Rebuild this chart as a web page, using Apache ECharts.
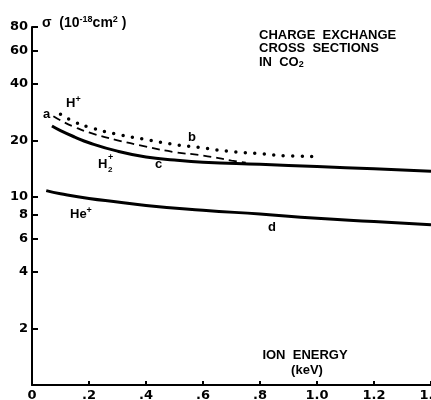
<!DOCTYPE html>
<html><head><meta charset="utf-8">
<script src="https://cdn.jsdelivr.net/npm/echarts@6/dist/echarts.min.js"></script>
<style>html,body{margin:0;padding:0;background:#fff}#c{width:431px;height:400px}</style>
</head><body><div id="c"></div>
<script>
// Energy (keV) tick labels
const xTickValues = [0, 0.2, 0.4, 0.6, 0.8, 1.0, 1.2, 1.4];
const xTickLabels = ['0', '.2', '.4', '.6', '.8', '1.0', '1.2', '1.4'];
const yTickValues = [2, 4, 6, 8, 10, 20, 40, 60, 80];

// curve a (dashed) - H+
const aEnergy = [0.075, 0.1, 0.15, 0.2, 0.3, 0.4, 0.5, 0.6, 0.7, 0.75];
const aSigma  = [26.8, 25.5, 23.5, 22.0, 20.0, 18.5, 17.3, 16.6, 15.6, 15.2];
// curve b (dotted) - H+
const bEnergy = [0.1, 0.15, 0.2, 0.3, 0.4, 0.5, 0.6, 0.7, 0.8, 0.9, 1.0];
const bSigma  = [27.5, 25.0, 23.5, 21.5, 20.2, 19.0, 18.2, 17.4, 17.0, 16.5, 16.4];
// curve c (solid) - H2+
const cEnergy = [0.07, 0.1, 0.15, 0.2, 0.3, 0.4, 0.5, 0.6, 0.8, 1.0, 1.2, 1.4];
const cSigma  = [23.8, 22.5, 20.8, 19.4, 17.5, 16.3, 15.7, 15.3, 14.9, 14.5, 14.1, 13.7];
// curve d (solid) - He+
const dEnergy = [0.05, 0.1, 0.2, 0.3, 0.4, 0.6, 0.8, 1.0, 1.2, 1.4];
const dSigma  = [10.8, 10.4, 9.8, 9.4, 9.0, 8.5, 8.1, 7.7, 7.4, 7.1];

const zip = (xs, ys) => xs.map((x, i) => [x, ys[i]]);
const FONT = 'Liberation Sans';

const chart = echarts.init(document.getElementById('c'), null, {renderer: 'canvas'});

const baseRich = {
  n: {fontSize: 13, fontWeight: 'bold', fontFamily: FONT, color: '#000'},
  m: {fontSize: 14, fontWeight: 'bold', fontFamily: FONT, color: '#000'},
  sup: {fontSize: 9, fontWeight: 'bold', fontFamily: FONT, color: '#000', verticalAlign: 'top', padding: [0,0,6,0]},
  sub: {fontSize: 9, fontWeight: 'bold', fontFamily: FONT, color: '#000', padding: [6,0,0,0]}
};

const option = {
  animation: false,
  backgroundColor: '#fff',
  grid: {left: 32, right: 0, top: 27, bottom: 15, containLabel: false, outerBoundsMode: 'none'},
  xAxis: {
    type: 'value', min: 0, max: 1.4, interval: 0.2,
    axisLine: {show: true, lineStyle: {color: '#000', width: 2}},
    axisTick: {show: true, inside: true, length: 4, lineStyle: {color: '#000', width: 2}},
    axisLabel: {
      margin: 4, color: '#000', fontFamily: 'DejaVu Sans', fontWeight: 'bold', fontSize: 13,
      showMaxLabel: true, hideOverlap: false,
      formatter: v => { const i = xTickValues.findIndex(t => Math.abs(t - v) < 1e-6); return i >= 0 ? xTickLabels[i] : ''; }
    },
    splitLine: {show: false}
  },
  yAxis: {
    type: 'log', logBase: 10, min: 1, max: 80,
    axisLine: {show: true, lineStyle: {color: '#000', width: 2}},
    axisTick: {show: true, inside: true, length: 6, lineStyle: {color: '#000', width: 2}, customValues: yTickValues},
    axisLabel: {margin: 4, color: '#000', fontFamily: 'DejaVu Sans', fontWeight: 'bold', fontSize: 13, customValues: yTickValues},
    minorTick: {show: false},
    splitLine: {show: false}
  },
  series: [
    {type: 'line', data: zip(aEnergy, aSigma), smooth: true, showSymbol: false, lineStyle: {color: '#000', width: 1.8, type: [8, 5]}},
    {type: 'line', data: zip(bEnergy, bSigma), smooth: true, showSymbol: false, lineStyle: {color: '#000', width: 3.5, type: [0, 9.5], cap: 'round'}},
    {type: 'line', data: zip(cEnergy, cSigma), smooth: true, showSymbol: false, lineStyle: {color: '#000', width: 3}},
    {type: 'line', data: zip(dEnergy, dSigma), smooth: true, showSymbol: false, lineStyle: {color: '#000', width: 3}}
  ],
  graphic: [
    {type: 'text', x: 42, y: 23, style: {text: '{m|σ  (10}{sup|-18}{m|cm}{sup|2}{m| )}', rich: baseRich, textVerticalAlign: 'middle'}},
    {type: 'text', x: 259, y: 35, style: {text: 'CHARGE  EXCHANGE', font: 'bold 13px ' + FONT, fill: '#000', textVerticalAlign: 'middle'}},
    {type: 'text', x: 259, y: 48, style: {text: 'CROSS  SECTIONS', font: 'bold 13px ' + FONT, fill: '#000', textVerticalAlign: 'middle'}},
    {type: 'text', x: 259, y: 62, style: {text: '{n|IN  CO}{sub|2}', rich: baseRich, textVerticalAlign: 'middle'}},
    {type: 'text', x: 66, y: 103, style: {text: '{n|H}{sup|+}', rich: baseRich, textVerticalAlign: 'middle'}},
    {type: 'text', x: 43, y: 114, style: {text: 'a', font: 'bold 13px ' + FONT, fill: '#000', textVerticalAlign: 'middle'}},
    {type: 'text', x: 188, y: 137, style: {text: 'b', font: 'bold 13px ' + FONT, fill: '#000', textVerticalAlign: 'middle'}},
    {type: 'text', x: 155, y: 164, style: {text: 'c', font: 'bold 13px ' + FONT, fill: '#000', textVerticalAlign: 'middle'}},
    {type: 'text', x: 98, y: 164, style: {text: 'H', font: 'bold 13px ' + FONT, fill: '#000', textVerticalAlign: 'middle'}},
    {type: 'text', x: 108, y: 158, style: {text: '+', font: 'bold 9px ' + FONT, fill: '#000', textVerticalAlign: 'middle'}},
    {type: 'text', x: 108, y: 170, style: {text: '2', font: 'bold 8px ' + FONT, fill: '#000', textVerticalAlign: 'middle'}},
    {type: 'text', x: 70, y: 214, style: {text: '{n|He}{sup|+}', rich: baseRich, textVerticalAlign: 'middle'}},
    {type: 'text', x: 268, y: 227, style: {text: 'd', font: 'bold 13px ' + FONT, fill: '#000', textVerticalAlign: 'middle'}},
    {type: 'text', x: 305, y: 355, style: {text: 'ION  ENERGY', font: 'bold 13px ' + FONT, fill: '#000', textAlign: 'center', textVerticalAlign: 'middle'}},
    {type: 'text', x: 307, y: 370, style: {text: '(keV)', font: 'bold 13px ' + FONT, fill: '#000', textAlign: 'center', textVerticalAlign: 'middle'}}
  ]
};
chart.setOption(option);
</script>
</body></html>
